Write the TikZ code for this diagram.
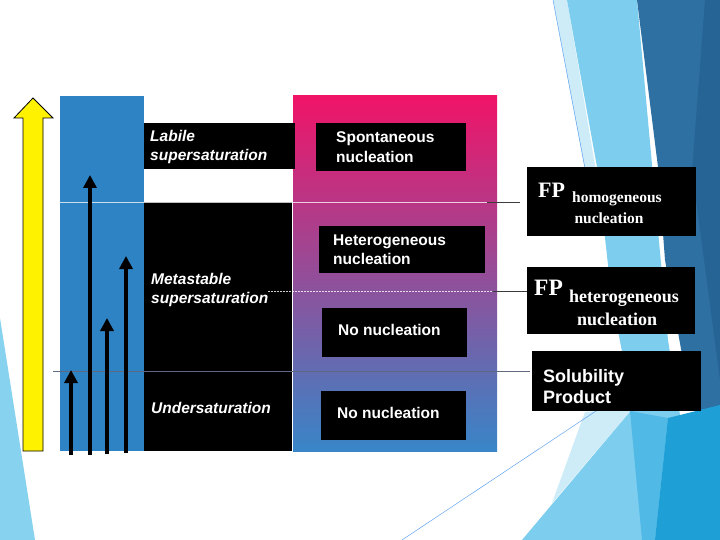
\documentclass[tikz,border=0pt]{standalone}
\usepackage{fontspec}
\setmainfont{Liberation Sans}
\newfontfamily\timesf{Liberation Serif}
\usetikzlibrary{arrows.meta}
\definecolor{colblue}{RGB}{46,131,196}
\definecolor{gtop}{RGB}{240,20,104}
\definecolor{gmid}{RGB}{176,90,162}
\definecolor{gbot}{RGB}{56,134,200}
\definecolor{lb}{RGB}{125,205,238}
\definecolor{pale}{RGB}{205,236,248}
\definecolor{db}{RGB}{47,112,163}
\definecolor{dbb}{RGB}{38,100,150}
\definecolor{bb}{RGB}{30,160,215}
\definecolor{mb}{RGB}{80,185,230}
\definecolor{lefttri}{RGB}{135,210,238}
\definecolor{linegray}{RGB}{95,105,128}
\definecolor{darkline}{RGB}{60,60,60}
\begin{document}
\begin{tikzpicture}[x=1pt,y=-1pt,
  blk/.style={fill=black, draw=none, inner sep=0pt, anchor=north west},
  lbl/.style={text=white, font=\fontsize{15.5}{18}\selectfont\bfseries\itshape, anchor=base west, inner sep=0pt},
  nuc/.style={text=white, font=\fontsize{15.5}{18}\selectfont\bfseries, anchor=base west, inner sep=0pt},
  sol/.style={text=white, font=\fontsize{18}{20}\selectfont\bfseries, anchor=base west, inner sep=0pt},
  fpa/.style={text=white, font=\timesf\fontsize{22}{22}\selectfont\bfseries, anchor=base west, inner sep=0pt},
  fpb/.style={text=white, font=\timesf\fontsize{15.5}{16}\selectfont\bfseries, inner sep=0pt},
  fpc/.style={text=white, font=\timesf\fontsize{18}{18}\selectfont\bfseries, inner sep=0pt},
  bigarrow/.style={line width=4.3pt, -{Triangle[width=13pt,length=13pt]}},
  link/.style={darkline, line width=1pt}]
\useasboundingbox (0,0) rectangle (720,540);
\fill[white] (0,0) rectangle (720,540);
% decorative background
\fill[lefttri] (0,318) -- (35,540) -- (0,540) -- cycle;
\fill[pale] (553,0) -- (567,0) -- (606,230) -- (596,230) -- cycle;
\fill[lb] (567,0) -- (637,0) -- (668,340) -- (700,540) -- (522,540) -- (633,408) -- (612,300) -- (597,167) -- cycle;
\fill[pale] (552,503) -- (585,412) -- (633,408) -- cycle;
\fill[db] (637,0) -- (720,0) -- (720,420) -- (692,410) -- (665,260) -- (658,167) -- cycle;
\fill[dbb] (705,0) -- (720,0) -- (720,380) -- (692,170) -- cycle;
\fill[mb] (630,411) -- (668,418) -- (655,540) -- (642,540) -- cycle;
\fill[bb] (655,540) -- (720,540) -- (720,405) -- (668,418) -- cycle;
\draw[lb!80!blue, line width=0.5pt] (553,0) -- (592,205);
\draw[lb!80!blue, line width=0.5pt] (402,540) -- (620,395);
% columns
\fill[colblue] (60,96) rectangle (144,451);
\shade[top color=gtop, middle color=gmid, bottom color=gbot] (293,96) rectangle (497,451);
\node[blk, minimum width=151pt, minimum height=46pt] (labile) at (144,123) {};
\node[blk, minimum width=148pt, minimum height=249pt] (meta) at (144,202) {};
% horizontal lines
\coordinate (l1a) at (58,203);
\coordinate (l1b) at (487,203);
\coordinate (l2a) at (268,291);
\coordinate (l2b) at (493,291);
\coordinate (l3a) at (53,371);
\coordinate (l3b) at (492,371);
\draw[white, opacity=0.75, line width=1pt] (l1a) -- (l1b);
\draw[white, line width=0.8pt, dash pattern=on 2pt off 1pt, opacity=0.8] (l2a) -- (l2b);
\draw[linegray, line width=1pt] (l3a) -- (l3b);
% nucleation boxes
\node[blk, minimum width=150pt, minimum height=48pt] (spont) at (316,123) {};
\node[blk, minimum width=166pt, minimum height=47pt] (hetero) at (319,226) {};
\node[blk, minimum width=145pt, minimum height=49pt] (nonuc1) at (322,308) {};
\node[blk, minimum width=145pt, minimum height=49pt] (nonuc2) at (321,391) {};
% right boxes
\node[blk, minimum width=169pt, minimum height=69pt] (fphom) at (527,167) {};
\node[blk, minimum width=168pt, minimum height=67pt] (fphet) at (527,267) {};
\node[blk, minimum width=169pt, minimum height=60pt] (solub) at (532,351) {};
% connectors to right boxes
\draw[link] (l1b) -- ([xshift=-7pt]l1b -| fphom.west);
\draw[link] (l2b) -- (l2b -| fphet.west);
\draw[linegray, line width=1pt] (l3b) -- ([xshift=-2pt]l3b -| solub.west);
% texts in label column
\node[lbl] (labileA) at (150,142) {Labile};
\node[lbl] (labileB) at (150,161) {supersaturation};
\node[lbl] (metaA) at (151,284) {Metastable};
\node[lbl] (metaB) at (151,303) {supersaturation};
\node[lbl] (under) at (151,413) {Undersaturation};
% texts in nucleation boxes
\node[nuc] (spontA) at (336,143) {Spontaneous};
\node[nuc] (spontB) at (336,163) {nucleation};
\node[nuc] (heteroA) at (333,245) {Heterogeneous};
\node[nuc] (heteroB) at (333,264) {nucleation};
\node[nuc] (nonuc1t) at (338,335) {No nucleation};
\node[nuc] (nonuc2t) at (337,418) {No nucleation};
% texts in right boxes
\node[fpa] (fphomA) at (538,197) {FP};
\node[fpb, anchor=base west] (fphomB) at (572,203) {homogeneous};
\node[fpb, anchor=base] (fphomC) at (609,223) {nucleation};
\node[fpa, font=\timesf\fontsize{23.5}{24}\selectfont\bfseries] (fphetA) at (534,295) {FP};
\node[fpc, anchor=base west] (fphetB) at (569,302) {heterogeneous};
\node[fpc, anchor=base] (fphetC) at (617,325) {nucleation};
\node[sol] (solA) at (543,382) {Solubility};
\node[sol] (solB) at (543,403) {Product};
% yellow arrow
\filldraw[fill=yellow, draw=black, line width=0.8pt] (23,451) -- (23,118) -- (14,118) -- (33,98) -- (53,118) -- (43,118) -- (43,451) -- cycle;
% black arrows
\coordinate (a1s) at (71,455); \coordinate (a1e) at (71,370);
\coordinate (a2s) at (90,455); \coordinate (a2e) at (90,175);
\coordinate (a3s) at (107,454); \coordinate (a3e) at (107,318);
\coordinate (a4s) at (126,453); \coordinate (a4e) at (126,256);
\draw[bigarrow] (a1s) -- (a1e);
\draw[bigarrow] (a2s) -- (a2e);
\draw[bigarrow] (a3s) -- (a3e);
\draw[bigarrow] (a4s) -- (a4e);
\end{tikzpicture}
\end{document}
